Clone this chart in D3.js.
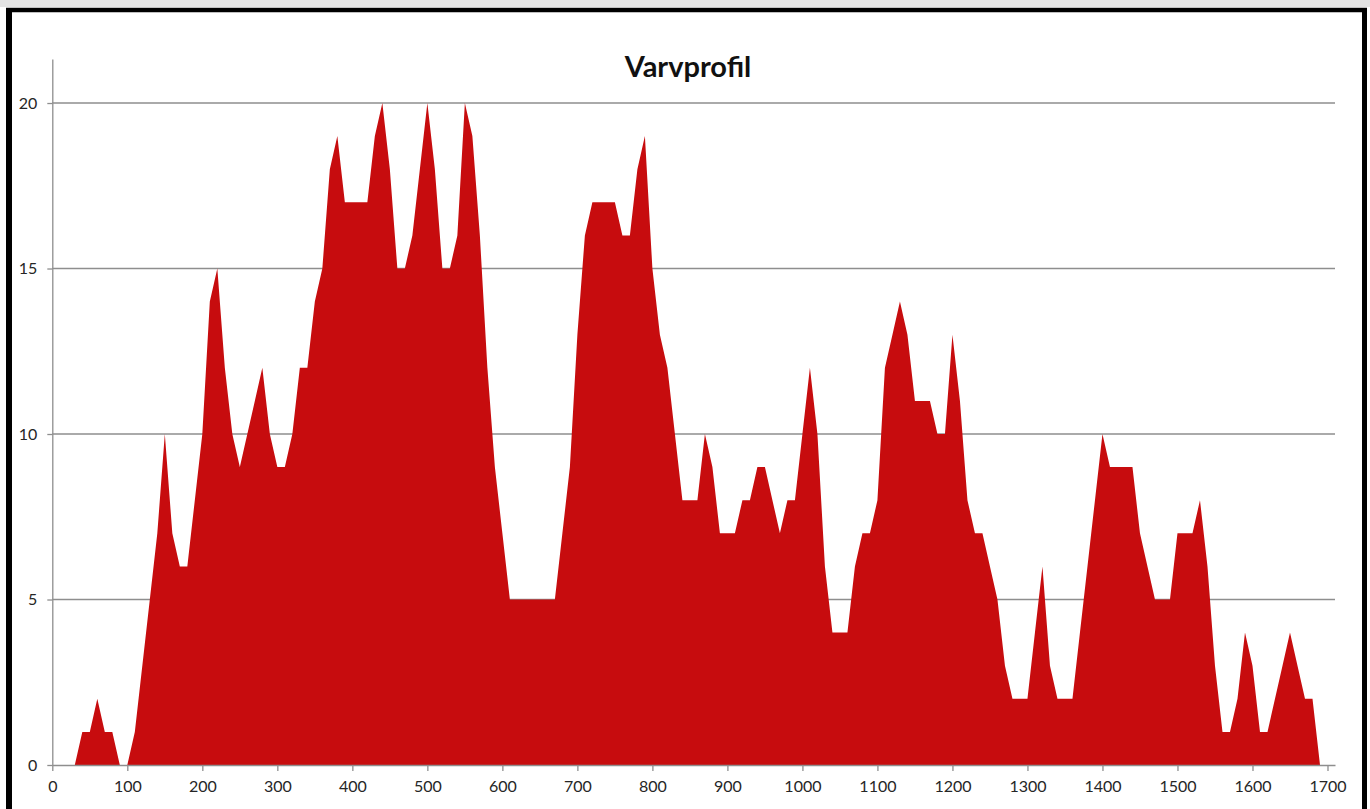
<!DOCTYPE html>
<html>
<head>
<meta charset="utf-8">
<script src="https://cdn.jsdelivr.net/npm/d3@7"></script>
<style>
  body { margin: 0; background: #fff; }
  svg { display: block; }
</style>
</head>
<body>
<div id="chart"></div>
<script>
const WIDTH = 1370
const HEIGHT = 809
const PLOT = { LEFT: 52.3, RIGHT: 1335, TOP: 59, BOTTOM: 765 }
const FILL = "#c70c0e"
const GRID = "#8e8e8e"

const title = "Varvprofil"

// distance along the profile (category positions)
const positions = [
  30, 40, 50, 60, 70, 80, 90, 100, 110, 120, 130, 140, 150, 160, 170, 180, 190, 200,
  210, 220, 230, 240, 250, 260, 270, 280, 290, 300, 310, 320, 330, 340, 350, 360,
  370, 380, 390, 400, 410, 420, 430, 440, 450, 460, 470, 480, 490, 500, 510, 520,
  530, 540, 550, 560, 570, 580, 590, 600, 610, 620, 630, 640, 650, 660, 670, 680,
  690, 700, 710, 720, 730, 740, 750, 760, 770, 780, 790, 800, 810, 820, 830, 840,
  850, 860, 870, 880, 890, 900, 910, 920, 930, 940, 950, 960, 970, 980, 990, 1000,
  1010, 1020, 1030, 1040, 1050, 1060, 1070, 1080, 1090, 1100, 1110, 1120, 1130, 1140,
  1150, 1160, 1170, 1180, 1190, 1200, 1210, 1220, 1230, 1240, 1250, 1260, 1270, 1280,
  1290, 1300, 1310, 1320, 1330, 1340, 1350, 1360, 1370, 1380, 1390, 1400, 1410, 1420,
  1430, 1440, 1450, 1460, 1470, 1480, 1490, 1500, 1510, 1520, 1530, 1540, 1550, 1560,
  1570, 1580, 1590, 1600, 1610, 1620, 1630, 1640, 1650, 1660, 1670, 1680, 1690
]

// varv values
const values = [
  0, 1, 1, 2, 1, 1, 0, 0, 1, 3, 5, 7, 10, 7, 6, 6, 8, 10,
  14, 15, 12, 10, 9, 10, 11, 12, 10, 9, 9, 10, 12, 12, 14, 15,
  18, 19, 17, 17, 17, 17, 19, 20, 18, 15, 15, 16, 18, 20, 18, 15,
  15, 16, 20, 19, 16, 12, 9, 7, 5, 5, 5, 5, 5, 5, 5, 7,
  9, 13, 16, 17, 17, 17, 17, 16, 16, 18, 19, 15, 13, 12, 10, 8,
  8, 8, 10, 9, 7, 7, 7, 8, 8, 9, 9, 8, 7, 8, 8, 10,
  12, 10, 6, 4, 4, 4, 6, 7, 7, 8, 12, 13, 14, 13,
  11, 11, 11, 10, 10, 13, 11, 8, 7, 7, 6, 5, 3, 2,
  2, 2, 4, 6, 3, 2, 2, 2, 4, 6, 8, 10, 9, 9,
  9, 9, 7, 6, 5, 5, 5, 7, 7, 7, 8, 6, 3, 1,
  1, 2, 4, 3, 1, 1, 2, 3, 4, 3, 2, 2, 0
]

const xTicks = [0, 100, 200, 300, 400, 500, 600, 700, 800, 900, 1000, 1100, 1200, 1300, 1400, 1500, 1600, 1700]
const yTicks = [0, 5, 10, 15, 20]

const data = positions.map((p, i) => ({ x: p, v: values[i] }))

const svg = d3.select("#chart")
              .append("svg")
              .attr("width", WIDTH)
              .attr("height", HEIGHT)

svg.append("rect")
   .attr("x", 0).attr("y", 0)
   .attr("width", WIDTH).attr("height", 7)
   .attr("fill", "#e4e4e4")

const x = d3.scaleLinear().domain([0, 1710]).range([PLOT.LEFT, PLOT.RIGHT])
const y = d3.scaleLinear().domain([0, 21.33]).range([PLOT.BOTTOM, PLOT.TOP])

// gridlines
svg.append("g")
   .selectAll("line")
   .data(yTicks.filter(d => d > 0))
   .join("line")
   .attr("x1", PLOT.LEFT).attr("x2", PLOT.RIGHT)
   .attr("y1", d => y(d)).attr("y2", d => y(d))
   .attr("stroke", GRID)
   .attr("stroke-width", 1.3)

// area
const area = d3.area()
               .x(d => x(d.x))
               .y0(y(0))
               .y1(d => y(d.v))

svg.append("path")
   .datum(data)
   .attr("d", area)
   .attr("fill", FILL)

// axes
const xAxis = svg.append("g")
                 .attr("transform", `translate(0, ${PLOT.BOTTOM})`)
                 .call(d3.axisBottom(x).tickValues(xTicks).tickFormat(d3.format("d"))
                         .tickSize(6).tickPadding(10).tickSizeOuter(0))
const yAxis = svg.append("g")
                 .attr("transform", `translate(${PLOT.LEFT}, 0)`)
                 .call(d3.axisLeft(y).tickValues(yTicks).tickFormat(d3.format("d"))
                         .tickSize(5).tickPadding(10).tickSizeOuter(0))

;[xAxis, yAxis].forEach(g => {
  g.select(".domain").attr("stroke", GRID).attr("stroke-width", 1.3)
  g.selectAll(".tick line").attr("stroke", GRID).attr("stroke-width", 1.3)
  g.selectAll(".tick text")
   .attr("fill", "#262626")
   .style("font-family", "Lato, 'Noto Sans', sans-serif")
   .style("font-size", "16px")
})

// title
svg.append("text")
   .attr("x", 688)
   .attr("y", 77)
   .attr("text-anchor", "middle")
   .style("font-family", "Lato, 'Noto Sans', sans-serif")
   .style("font-weight", "bold")
   .style("font-size", "29px")
   .attr("fill", "#111")
   .text(title)

// frame
const frame = svg.append("g").attr("stroke", "#000")
frame.append("line").attr("x1", 9).attr("x2", 9).attr("y1", 8).attr("y2", HEIGHT).attr("stroke-width", 6)
frame.append("line").attr("x1", 6).attr("x2", 1367).attr("y1", 10).attr("y2", 10).attr("stroke-width", 4.5)
frame.append("line").attr("x1", 1364.5).attr("x2", 1364.5).attr("y1", 8).attr("y2", HEIGHT).attr("stroke-width", 5)
</script>
</body>
</html>
